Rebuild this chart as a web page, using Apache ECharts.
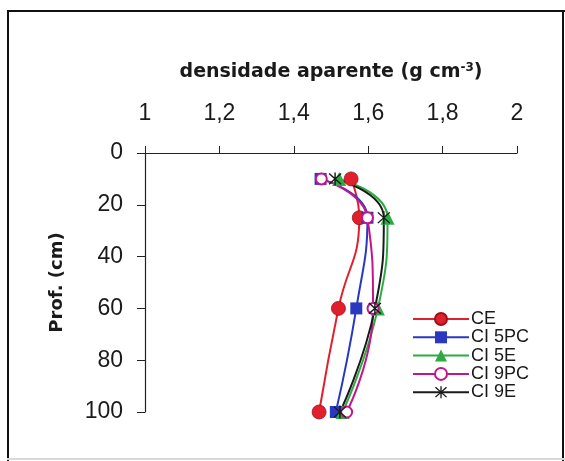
<!DOCTYPE html>
<html>
<head>
<meta charset="utf-8">
<script src="https://cdn.jsdelivr.net/npm/echarts@6/dist/echarts.min.js"></script>
<style>
  html, body { margin: 0; padding: 0; background: #fff; overflow: hidden; }
  #chart { width: 565px; height: 461px; }
</style>
</head>
<body>
<div id="chart"></div>
<script>
// profundidades (cm) e densidade aparente por tratamento
const depths = [10, 25, 60, 100];
const xTicks = [1, 1.2, 1.4, 1.6, 1.8, 2];
const yTicks = [0, 20, 40, 60, 80, 100];

const ce     = [1.554, 1.576, 1.520, 1.468];
const ci5pc  = [1.472, 1.598, 1.568, 1.513];
const ci5e   = [1.522, 1.652, 1.626, 1.531];
const ci9pc  = [1.474, 1.598, 1.613, 1.542];
const ci9e   = [1.511, 1.642, 1.618, 1.524];

const FONT = 'Liberation Sans, Arial, sans-serif';
const BOLD = 'DejaVu Sans, Liberation Sans, sans-serif';
const asterisk = 'path://M9 0L11 0L11 20L9 20Z M1 2.4L2.4 1L19 17.6L17.6 19Z M17.6 1L19 2.4L2.4 19L1 17.6Z';

function pts(vals) {
    return vals.map((v, i) => [v, depths[i]]);
}

function serie(name, vals, color, symbol, size, itemStyle) {
    return {
        name: name,
        type: 'line',
        smooth: 0.5,
        data: pts(vals),
        symbol: symbol,
        symbolSize: size,
        showSymbol: true,
        lineStyle: { color: color, width: 2 },
        itemStyle: Object.assign({ color: color }, itemStyle || {}),
        emphasis: { disabled: true },
        z: 3
    };
}

function frameLine(x1, y1, x2, y2, color) {
    return {
        type: 'line',
        shape: { x1: x1, y1: y1, x2: x2, y2: y2 },
        style: { stroke: color, lineWidth: 2 },
        silent: true
    };
}

const chart = echarts.init(document.getElementById('chart'));
chart.setOption({
    backgroundColor: '#ffffff',
    animation: false,
    textStyle: { fontFamily: FONT },
    grid: { left: 145, top: 153, width: 372, height: 259 },
    xAxis: {
        type: 'value',
        position: 'top',
        min: 1, max: 2, interval: 0.2,
        name: 'densidade aparente (g cm{sup|-3})',
        nameLocation: 'middle',
        nameGap: 71,
        nameTextStyle: {
            fontSize: 19, fontWeight: 'bold', color: '#1a1a1a', fontFamily: BOLD,
            rich: { sup: { fontSize: 12, fontWeight: 'bold', color: '#1a1a1a', fontFamily: BOLD, verticalAlign: 'top', padding: [0, 0, 8, 0] } }
        },
        axisLine: { show: true, lineStyle: { color: '#222', width: 1.2 } },
        axisTick: { show: true, length: 7, lineStyle: { color: '#222' } },
        splitLine: { show: false },
        axisLabel: {
            margin: 28, fontSize: 23, color: '#1a1a1a',
            formatter: v => xTicks.includes(+v.toFixed(1)) ? String(+v.toFixed(1)).replace('.', ',') : ''
        }
    },
    yAxis: {
        type: 'value',
        inverse: true,
        min: 0, max: 100, interval: 20,
        name: 'Prof. (cm)',
        nameLocation: 'middle',
        nameGap: 79,
        nameTextStyle: { fontSize: 18, fontWeight: 'bold', color: '#1a1a1a', fontFamily: BOLD },
        axisLine: { show: true, lineStyle: { color: '#222', width: 1.2 } },
        axisTick: { show: true, length: 8, lineStyle: { color: '#222' } },
        splitLine: { show: false },
        axisLabel: {
            margin: 22, fontSize: 23, color: '#1a1a1a',
            formatter: v => yTicks.includes(v) ? String(v) : ''
        }
    },
    legend: {
        orient: 'vertical',
        left: 407,
        top: 305,
        itemWidth: 56,
        itemHeight: 15,
        itemGap: 0.3,
        textStyle: { fontSize: 18, color: '#1a1a1a', fontFamily: FONT, padding: [0, 0, 0, -3] },
        data: ['CE', 'CI 5PC', 'CI 5E', 'CI 9PC', 'CI 9E']
    },
    graphic: [
        frameLine(7, 11, 565, 11, '#111'),
        frameLine(8, 10, 8, 461, '#111'),
        frameLine(563, 10, 563, 461, '#111'),
        frameLine(7, 459, 565, 459, '#d8d8d8')
    ],
    series: [
        serie('CE', ce, '#e0202c', 'circle', 14, { borderColor: '#a01018', borderWidth: 0.8 }),
        serie('CI 5PC', ci5pc, '#2a38c0', 'rect', 12),
        serie('CI 5E', ci5e, '#2eaa44', 'triangle', 14),
        serie('CI 9PC', ci9pc, '#c4168c', 'emptyCircle', 11, { borderWidth: 2 }),
        serie('CI 9E', ci9e, '#1a1a1a', asterisk, 13)
    ]
});
</script>
</body>
</html>
